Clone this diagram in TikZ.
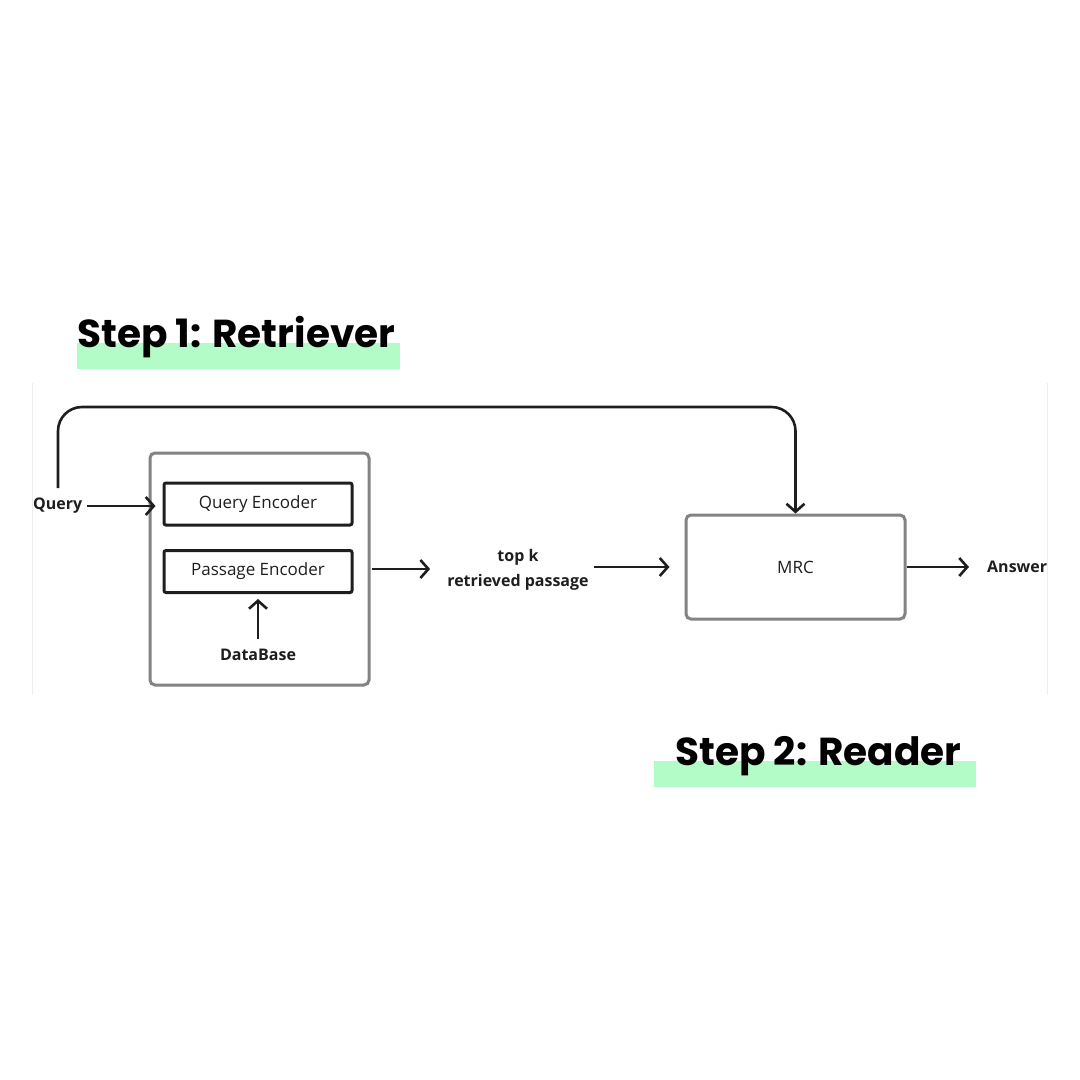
\documentclass[tikz,border=0pt]{standalone}
\usepackage{fontspec}
\setmainfont{Open Sans}
\newfontfamily\titlefont{Poppins}
\usetikzlibrary{positioning,arrows.meta}
\definecolor{mint}{HTML}{B3FCC8}
\definecolor{boxgray}{HTML}{838383}
\definecolor{ink}{HTML}{1E1E1E}

\begin{document}
\begin{tikzpicture}[x=1pt,y=-1pt,
  outer/.style={draw=boxgray, line width=3pt, rounded corners=5pt},
  enc/.style={draw=ink, line width=3pt, rounded corners=2pt, minimum width=188pt, minimum height=42pt, font=\fontsize{17}{20}\selectfont, text=ink},
  lbl/.style={font=\bfseries\fontsize{16}{25}\selectfont, inner sep=0pt, text=ink},
  steptitle/.style={font=\titlefont\bfseries\fontsize{39}{44}\selectfont, inner sep=0pt, anchor=base west},
  arr/.style={-{Straight Barb[length=8pt,width=18pt]}, line width=2.6pt, draw=ink}]
  \useasboundingbox (0,0) rectangle (1080,1080);

  \draw[black!7, line width=1pt] (32,383) -- (32,695);
  \draw[black!7, line width=1pt] (1047,383) -- (1047,695);

  \fill[mint] (77,343) rectangle (400,369);
  \node[steptitle] (step1) at (77,347) {Step 1: Retriever};
  \fill[mint] (654,761) rectangle (976,787);
  \node[steptitle] (step2) at (675,765) {Step 2: Reader};

  \node[outer, minimum width=219pt, minimum height=232pt] (retr) at (259.5,569) {};
  \node[enc] (qenc) at (258,504) {Query Encoder};
  \node[enc] (penc) at (258,571.5) {Passage Encoder};
  \node[lbl] (db) at (258,655) {DataBase};
  \node[lbl, anchor=west] (query) at (33,506) {Query};

  \node[lbl, align=center] (topk) at (518,570) {top k\\retrieved passage};
  \node[outer, minimum width=219pt, minimum height=104pt, font=\fontsize{17}{20}\selectfont, text=ink] (mrc) at (795.5,567) {MRC};
  \node[lbl, anchor=west] (ans) at (987,567) {Answer};

  \coordinate (qtop) at (58,488);
  \draw[arr, rounded corners=24pt] (qtop) |- (mrc.north |- 0,407) -- (mrc.north);
  \draw[arr, shorten <=5pt, shorten >=7pt] (query.east) -- (qenc.west |- query.east);
  \draw[arr, shorten <=10pt, shorten >=5pt] (db.north) -- (penc.south);
  \draw[arr, shorten <=1pt, shorten >=17pt] (retr.east) -- (topk.west |- retr.east);
  \draw[arr, shorten <=5pt, shorten >=15pt] (topk.east |- mrc.west) -- (mrc.west);
  \draw[arr, shorten <=0pt, shorten >=18pt] (mrc.east) -- (ans.west);
\end{tikzpicture}
\end{document}
